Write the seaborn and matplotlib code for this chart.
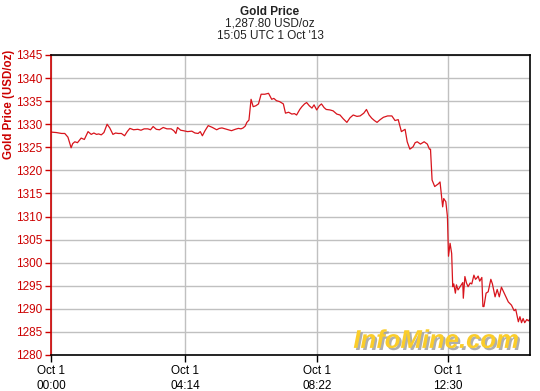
import matplotlib
matplotlib.use("Agg")
import matplotlib.pyplot as plt
import matplotlib.patheffects as pe
import seaborn as sns
import pandas as pd

# minutes after 00:00 UTC, 1 Oct 2013
minutes = [
    0, 10, 20, 26, 32, 38, 41, 45, 50, 57,
    63, 70, 76, 81, 86, 90, 95, 100, 106, 111,
    117, 122, 127, 133, 139, 144, 149, 156, 164, 170,
    176, 183, 188, 193, 199, 205, 212, 219, 227, 232,
    236, 239,
    245, 250, 258, 266, 272, 278, 282, 286, 291, 297,
    305, 313, 318, 323, 332, 341, 348, 354, 359, 363,
    367, 370, 374, 378, 382, 387, 392, 397, 404, 411,
    417, 421, 426, 432, 439, 443, 449, 455, 460, 464,
    470, 474, 479,
    483, 488, 493, 497, 502, 507, 511, 516, 520, 527,
    533, 540, 546, 552, 559, 565, 571, 578, 584, 591,
    596, 601, 606, 611, 616, 622, 628, 636, 644, 650,
    656, 662, 669, 673, 678, 684, 688, 692, 698, 705,
    711, 715,
    717, 720, 725, 732, 735, 740, 742, 746, 749, 751,
    754, 757, 759, 761, 764, 766, 769, 774, 778, 779,
    782, 785, 788, 792, 795, 799, 802, 804, 807, 810,
    814, 816, 818, 822, 826, 831, 834, 839, 843, 847,
    851, 855, 858, 864, 870, 875, 878, 883, 886, 889,
    892, 895, 899, 902, 905,
]
prices = [
    1328.3, 1328.2, 1328.0, 1328.0, 1327.2, 1324.9, 1325.8, 1326.2, 1326.0, 1327.0,
    1326.7, 1328.4, 1327.8, 1328.1, 1327.8, 1327.9, 1327.7, 1328.2, 1330.0, 1329.2,
    1327.8, 1328.1, 1328.0, 1328.0, 1327.5, 1328.4, 1329.1, 1328.8, 1328.9, 1328.7,
    1329.0, 1329.0, 1328.8, 1329.5, 1328.9, 1328.8, 1329.3, 1329.0, 1329.0, 1328.6,
    1328.0, 1329.3,
    1328.7, 1328.6, 1328.4, 1328.5, 1328.1, 1328.0, 1328.4, 1327.5, 1328.6, 1329.7,
    1329.3, 1328.8, 1329.1, 1329.2, 1328.9, 1328.6, 1328.9, 1329.1, 1329.0, 1329.2,
    1329.6, 1330.4, 1330.9, 1335.4, 1333.8, 1334.0, 1334.4, 1336.5, 1336.5, 1336.7,
    1335.4, 1335.6, 1335.1, 1334.9, 1334.4, 1332.4, 1332.6, 1332.2, 1332.3, 1332.0,
    1333.2, 1333.8, 1334.4,
    1334.7, 1334.0, 1333.5, 1334.2, 1333.1, 1334.0, 1334.4, 1333.6, 1333.2, 1333.1,
    1332.9, 1332.2, 1332.0, 1331.2, 1330.4, 1331.4, 1332.0, 1331.7, 1331.8, 1332.4,
    1333.2, 1332.0, 1331.3, 1330.8, 1330.4, 1331.0, 1331.5, 1331.8, 1331.8, 1330.8,
    1331.0, 1328.4, 1328.9, 1326.2, 1324.6, 1325.1, 1326.0, 1326.2, 1325.7, 1326.2,
    1325.7, 1324.6,
    1324.6, 1317.9, 1316.5, 1317.1, 1317.5, 1312.1, 1313.9, 1313.2, 1310.0, 1301.4,
    1304.2, 1302.0, 1294.8, 1295.4, 1293.4, 1295.2, 1294.1, 1295.0, 1295.7, 1292.3,
    1297.0, 1295.6, 1294.8, 1295.6, 1295.4, 1297.3, 1296.4, 1296.6, 1297.1, 1296.0,
    1296.8, 1290.5, 1290.5, 1293.4, 1293.7, 1296.4, 1295.4, 1292.6, 1294.2, 1292.6,
    1294.7, 1293.7, 1293.0, 1291.5, 1290.8, 1289.6, 1289.9, 1287.2, 1288.3, 1287.0,
    1287.9, 1287.0, 1287.7, 1287.4, 1287.8,
]

y_ticks = [1280, 1285, 1290, 1295, 1300, 1305, 1310, 1315, 1320, 1325, 1330, 1335, 1340, 1345]
x_ticks = [0, 254, 502, 750]
x_tick_labels = ["Oct 1\n00:00", "Oct 1\n04:14", "Oct 1\n08:22", "Oct 1\n12:30"]

title_lines = ["Gold Price", "1,287.80 USD/oz", "15:05 UTC 1 Oct '13"]

sns.set_style("white")
plt.rcParams['font.family'] = ['Liberation Sans', 'DejaVu Sans']

RED = "#cc0000"
LINE = "#d8141c"
GRID = "#c0c0c0"

df = pd.DataFrame({"minute": minutes, "price": prices})

fig = plt.figure(figsize=(5.4, 3.91), dpi=100)
ax = fig.add_axes([51/540, 1-355/391, (530-51)/540, (355-55)/391])

sns.lineplot(data=df, x="minute", y="price", ax=ax, color=LINE, linewidth=0.9)

ax.set_xlim(0, 905)
ax.set_ylim(1280, 1345)
ax.set_yticks(y_ticks)
ax.set_yticklabels([str(v) for v in y_ticks])
ax.set_xticks(x_ticks)
ax.set_xticklabels(x_tick_labels, linespacing=1.35)
ax.set_xlabel("")
ax.set_ylabel("")

ax.grid(True, color=GRID, linewidth=1.0)
ax.set_axisbelow(True)

for s in ["top", "right", "bottom"]:
    ax.spines[s].set_color("black")
    ax.spines[s].set_linewidth(1.2)
ax.spines["left"].set_color(RED)
ax.spines["left"].set_linewidth(1.2)

ax.tick_params(axis="y", colors=RED, labelcolor=RED, direction="out", length=4, width=1,
               labelsize=8.5, pad=2, left=True)
ax.tick_params(axis="x", colors="black", direction="out", length=5, width=1,
               labelsize=8.5, pad=2, bottom=True)

fig.text(0.5, 1-12/391, title_lines[0], ha="center", va="center", fontsize=8.5,
         fontweight="bold", color="#222222")
fig.text(0.5, 1-24/391, title_lines[1], ha="center", va="center", fontsize=8.5, color="#222222")
fig.text(0.5, 1-36/391, title_lines[2], ha="center", va="center", fontsize=8.5, color="#222222")

fig.text(9/540, 1-104/391, "Gold Price (USD/oz)", rotation=90, ha="center", va="center",
         fontsize=8.3, fontweight="bold", color=RED)

ax.text(0.978, 0.047, "InfoMine.com", transform=ax.transAxes, ha="right", va="center",
        fontsize=18.5, fontweight="bold", fontstyle="italic", color="#fbcd2a",
        path_effects=[pe.withSimplePatchShadow(offset=(1.5, -1.5), shadow_rgbFace="#9a9a9a", alpha=0.8)],
        zorder=1)

fig.savefig("out.png", dpi=100)
